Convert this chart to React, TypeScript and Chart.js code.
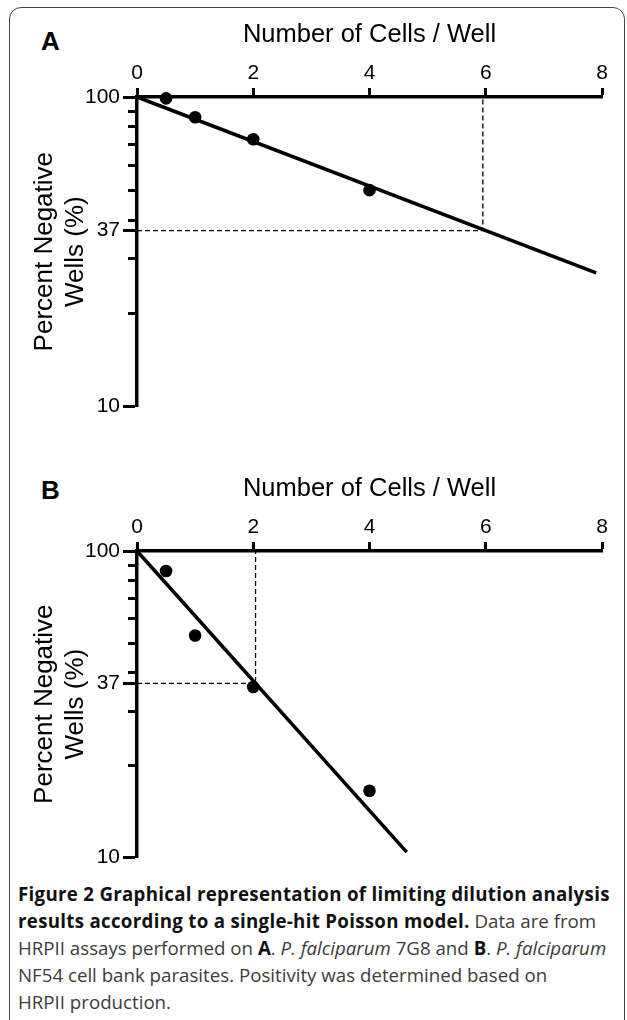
import React, { useEffect, useRef } from 'react';
import { Chart, registerables } from 'chart.js';

Chart.register(...registerables);

// ---- data ----
const xTicks = [0, 2, 4, 6, 8];
const yLabeledTicks = [10, 37, 100];
const yMinorTicks = [20, 30, 40, 50, 60, 70, 80, 90];
const cellsPerWell = [0.5, 1, 2, 4];
const percentNegativeA = [99, 86, 73, 50];
const percentNegativeB = [86, 53, 36, 16.5];
const fitCellsA = [0, 7.9];
const fitPercentA = [100, 27];
const fitCellsB = [0, 4.64];
const fitPercentB = [100, 10.4];
const crossing37A = 5.95;
const crossing37B = 2.04;
const level37 = 37;
const xTitle = 'Number of Cells / Well';
const yTitle = ['Percent Negative', 'Wells (%)'];

const FONT = "'Liberation Sans', Arial, sans-serif";

function makeConfig(pointsY: number[], fitX: number[], fitY: number[], cross: number): any {
  const yAll = [...yLabeledTicks, ...yMinorTicks].sort((a, b) => a - b);
  return {
    type: 'scatter',
    data: {
      datasets: [
        {
          data: cellsPerWell.map((x, i) => ({ x, y: pointsY[i] })),
          showLine: false,
          pointRadius: 6.3,
          pointBackgroundColor: '#000',
          pointBorderColor: '#000',
          pointBorderWidth: 0,
          clip: false,
        },
        {
          data: fitX.map((x, i) => ({ x, y: fitY[i] })),
          showLine: true,
          borderColor: '#000',
          borderWidth: 3.5,
          pointRadius: 0,
          clip: false,
        },
        {
          data: [
            { x: 0, y: level37 },
            { x: cross, y: level37 },
            { x: cross, y: 100 },
          ],
          showLine: true,
          borderColor: '#000',
          borderWidth: 1.3,
          borderDash: [5, 3],
          pointRadius: 0,
        },
      ],
    },
    options: {
      animation: false,
      responsive: false,
      maintainAspectRatio: false,
      events: [],
      layout: { padding: { left: 0, top: 0, right: 18, bottom: 14 } },
      plugins: { legend: { display: false }, tooltip: { enabled: false } },
      scales: {
        x: {
          type: 'linear',
          position: 'top',
          min: 0,
          max: 8,
          afterBuildTicks: (s: any) => {
            s.ticks = xTicks.map((v) => ({ value: v }));
          },
          afterFit: (s: any) => {
            s.height = 87;
          },
          ticks: {
            font: { family: FONT, size: 21 },
            color: '#000',
            padding: 2,
            maxRotation: 0,
            autoSkip: false,
          },
          grid: {
            drawOnChartArea: false,
            drawTicks: true,
            tickLength: 9,
            tickWidth: 3,
            tickColor: '#000',
          },
          border: { display: true, width: 3.5, color: '#000' },
          title: {
            display: true,
            text: xTitle,
            font: { family: FONT, size: 25.5, lineHeight: 1.2 },
            color: '#000',
            padding: { top: 9.7, bottom: 0 },
          },
        },
        y: {
          type: 'logarithmic',
          position: 'left',
          min: 10,
          max: 100,
          afterBuildTicks: (s: any) => {
            s.ticks = yAll.map((v) => ({ value: v }));
          },
          afterFit: (s: any) => {
            s.width = 127;
          },
          ticks: {
            font: { family: FONT, size: 21 },
            color: '#000',
            padding: 3,
            autoSkip: false,
            callback: (v: any) => (yLabeledTicks.includes(Number(v)) ? String(v) : ''),
          },
          grid: {
            drawOnChartArea: false,
            drawTicks: true,
            tickLength: 14,
            tickWidth: 3,
            tickColor: '#000',
            tickBorderDash: (ctx: any) =>
              ctx.tick && yLabeledTicks.includes(ctx.tick.value) ? [] : [0, 5, 50, 0],
          },
          border: { display: true, width: 3.5, color: '#000' },
          title: {
            display: true,
            text: yTitle,
            font: { family: FONT, size: 26, lineHeight: 1.2 },
            color: '#000',
            padding: { top: 19, bottom: 0 },
          },
        },
      },
    },
  };
}

function Panel(props: {
  top: number;
  height: number;
  pointsY: number[];
  fitX: number[];
  fitY: number[];
  cross: number;
}) {
  const ref = useRef<HTMLCanvasElement | null>(null);
  useEffect(() => {
    if (!ref.current) return;
    const chart = new Chart(ref.current, makeConfig(props.pointsY, props.fitX, props.fitY, props.cross));
    return () => chart.destroy();
  }, []);
  return (
    <canvas
      ref={ref}
      width={610}
      height={props.height}
      style={{ position: 'absolute', left: 10, top: props.top, width: 610, height: props.height }}
    />
  );
}

const letterStyle: React.CSSProperties = {
  position: 'absolute',
  left: 41,
  fontFamily: FONT,
  fontWeight: 'bold',
  fontSize: 26,
  lineHeight: '26px',
  color: '#000',
};

const capLine: React.CSSProperties = { whiteSpace: 'nowrap' };
const boldStyle: React.CSSProperties = { color: '#111', letterSpacing: '0.3px' };

export default function App() {
  return (
    <div
      style={{
        position: 'absolute',
        left: 0,
        top: 0,
        width: 627,
        height: 1020,
        overflow: 'hidden',
        background: '#fff',
      }}
    >
      <div
        style={{
          position: 'absolute',
          left: 9,
          top: 7,
          width: 616,
          height: 1080,
          border: '1px solid #444',
          borderRadius: 12,
          boxSizing: 'border-box',
        }}
      />
      <div style={{ ...letterStyle, top: 28 }}>A</div>
      <div style={{ ...letterStyle, top: 477 }}>B</div>
      <Panel top={10} height={412} pointsY={percentNegativeA} fitX={fitCellsA} fitY={fitPercentA} cross={crossing37A} />
      <Panel top={464} height={409} pointsY={percentNegativeB} fitX={fitCellsB} fitY={fitPercentB} cross={crossing37B} />
      <div
        style={{
          position: 'absolute',
          left: 18,
          top: 880,
          width: 610,
          fontFamily: "'Open Sans', sans-serif",
          fontSize: 18.7,
          lineHeight: '27px',
          color: '#3c3c3c',
        }}
      >
        <div style={capLine}>
          <b style={boldStyle}>Figure 2 Graphical representation of limiting dilution analysis</b>
        </div>
        <div style={capLine}>
          <b style={boldStyle}>results according to a single-hit Poisson model.</b> Data are from
        </div>
        <div style={capLine}>
          HRPII assays performed on <b style={{ color: '#111' }}>A</b>. <i>P. falciparum</i> 7G8 and{' '}
          <b style={{ color: '#111' }}>B</b>. <i>P. falciparum</i>
        </div>
        <div style={capLine}>NF54 cell bank parasites. Positivity was determined based on</div>
        <div style={capLine}>HRPII production.</div>
      </div>
    </div>
  );
}
